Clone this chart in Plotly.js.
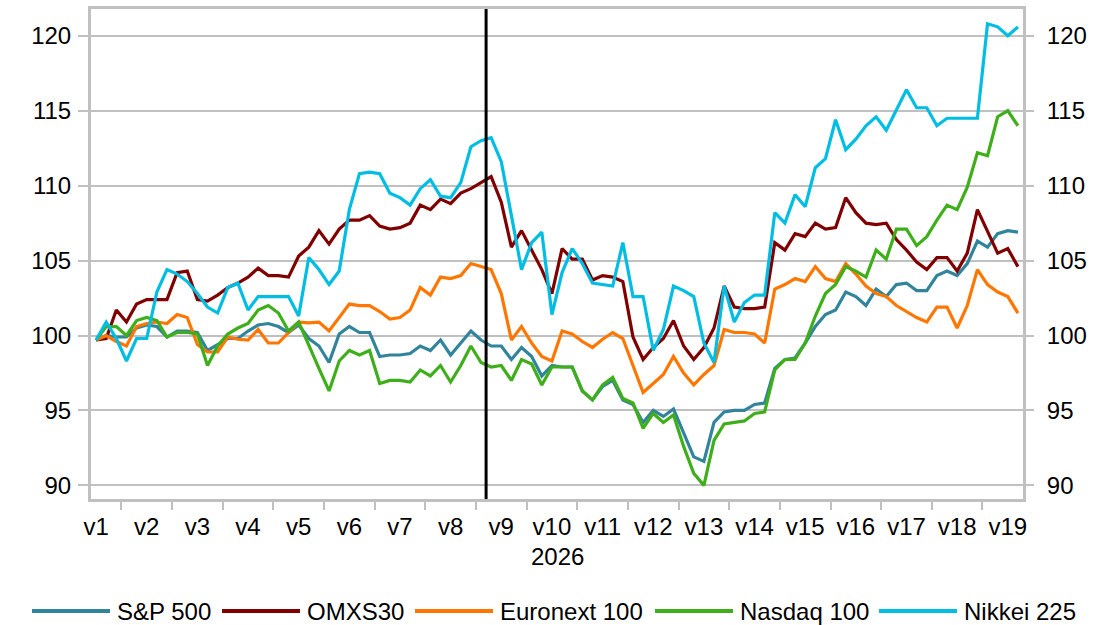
<!DOCTYPE html>
<html>
<head>
<meta charset="utf-8">
<script src="https://cdn.plot.ly/plotly-3.0.1.min.js"></script>
<style>
  html, body { margin: 0; padding: 0; background: #fff; }
  #chart { width: 1119px; height: 625px; }
</style>
</head>
<body>
<div id="chart"></div>
<script>
// ---- data ----
const weekLabels = ['v1','v2','v3','v4','v5','v6','v7','v8','v9','v10','v11','v12','v13','v14','v15','v16','v17','v18','v19'];
const yearLabel = '2026';
const seriesNames = ['S&P 500', 'OMXS30', 'Euronext 100', 'Nasdaq 100', 'Nikkei 225'];
const eventIndex = 38.5;

const sp500 = [99.7,100.0,99.9,99.9,100.5,100.7,100.6,99.9,100.3,100.3,100.2,99.0,99.4,99.8,99.8,100.3,100.7,100.8,100.6,100.2,100.7,99.8,99.3,98.2,100.1,100.6,100.2,100.2,98.6,98.7,98.7,98.8,99.3,99.0,99.7,98.7,99.5,100.3,99.7,99.3,99.3,98.4,99.2,98.6,97.3,98.0,97.9,97.9,96.3,95.7,96.6,97.0,95.7,95.4,94.2,95.0,94.6,95.1,93.5,91.9,91.6,94.2,94.9,95.0,95.0,95.4,95.5,97.8,98.4,98.5,99.5,100.6,101.4,101.7,102.9,102.6,102.0,103.1,102.6,103.4,103.5,103.0,103.0,104.0,104.3,104.0,104.8,106.3,105.9,106.8,107.0,106.9];
const omxs30 = [99.7,99.8,101.7,100.9,102.1,102.4,102.4,102.4,104.2,104.3,102.4,102.3,102.7,103.2,103.5,103.9,104.5,104.0,104.0,103.9,105.3,105.9,107.0,106.1,107.1,107.7,107.7,108.0,107.3,107.1,107.2,107.5,108.7,108.4,109.1,108.8,109.5,109.8,110.2,110.6,108.9,105.9,107.0,105.7,104.4,102.8,105.8,105.1,105.1,103.7,104.0,103.9,103.6,99.9,98.4,99.2,99.8,101.0,99.3,98.4,99.2,100.5,103.3,101.9,101.8,101.8,101.9,106.2,105.7,106.8,106.6,107.5,107.1,107.2,109.2,108.2,107.5,107.4,107.5,106.4,105.7,104.9,104.4,105.2,105.2,104.3,105.5,108.4,106.9,105.5,105.8,104.6];
const euronext100 = [99.7,100.0,99.6,99.3,100.6,100.8,100.9,100.8,101.4,101.2,99.4,98.9,98.9,99.9,99.75,99.7,100.4,99.5,99.5,100.2,100.9,100.85,100.9,100.3,101.2,102.1,102.0,102.0,101.6,101.1,101.2,101.7,103.2,102.7,103.9,103.8,104.0,104.8,104.6,104.4,102.8,99.7,100.6,99.5,98.6,98.3,100.3,100.1,99.6,99.2,99.75,100.2,99.8,98.0,96.2,96.8,97.4,98.6,97.5,96.7,97.4,98.0,100.4,100.2,100.2,100.1,99.5,103.1,103.4,103.8,103.6,104.6,103.8,103.6,104.8,104.1,103.3,102.8,102.6,102.0,101.6,101.2,100.9,101.9,101.9,100.5,102.0,104.4,103.4,102.9,102.6,101.5];
const nasdaq100 = [99.7,100.6,100.6,100.0,101.0,101.2,101.0,99.9,100.2,100.2,100.1,98.0,99.3,100.1,100.5,100.8,101.7,102.0,101.5,100.3,100.9,99.3,97.8,96.3,98.3,99.0,98.7,99.0,96.8,97.0,97.0,96.9,97.7,97.3,98.0,96.9,98.0,99.3,98.2,97.9,98.0,97.0,98.4,98.1,96.7,97.9,97.9,97.9,96.3,95.7,96.7,97.2,95.8,95.5,93.8,94.8,94.2,94.7,92.6,90.8,90.0,93.0,94.1,94.2,94.3,94.8,94.9,97.7,98.4,98.4,99.5,101.3,102.8,103.4,104.6,104.3,103.9,105.7,105.1,107.1,107.1,106.0,106.6,107.7,108.7,108.4,109.9,112.2,112.0,114.6,115.0,114.0];
const nikkei225 = [99.7,100.9,99.8,98.3,99.8,99.8,102.9,104.4,104.1,103.6,102.8,101.9,101.5,103.2,103.5,101.7,102.6,102.6,102.6,102.6,101.3,105.2,104.4,103.4,104.3,108.4,110.8,110.9,110.8,109.5,109.2,108.7,109.8,110.4,109.3,109.2,110.2,112.6,113.0,113.2,111.6,108.0,104.4,106.2,106.9,101.4,104.2,105.8,104.8,103.5,103.4,103.3,106.2,102.6,102.6,99.0,100.4,103.3,103.0,102.6,99.5,98.2,103.3,100.9,102.2,102.7,102.7,108.2,107.5,109.4,108.6,111.2,111.8,114.4,112.4,113.1,114.0,114.6,113.7,115.0,116.4,115.2,115.2,114.0,114.5,114.5,114.5,114.5,120.8,120.6,120.0,120.6];

// ---- styling ----
const seriesValues = [sp500, omxs30, euronext100, nasdaq100, nikkei225];
const seriesColors = ['#31849B', '#800000', '#FF7700', '#3FAE1B', '#00BDE3'];
const FONT = 'Liberation Sans, Arial, sans-serif';
const FS = 24;
const GRID = '#C0C0C0';
const yRange = [89.09, 121.79];

const xIdx = sp500.map((_, i) => i);
const labelPos = weekLabels.map((_, k) => 5 * k);
const boundaries = weekLabels.slice(1).map((_, k) => 5 * k + 2.5);

const traces = seriesValues.map((vals, s) => ({
  x: xIdx, y: vals, name: seriesNames[s], type: 'scatter', mode: 'lines',
  line: { color: seriesColors[s], width: 3.2 }, showlegend: false
}));
traces.push({ x: [null], y: [null], yaxis: 'y2', type: 'scatter', mode: 'lines', showlegend: false, hoverinfo: 'skip' });

// plot area in px: left 91, right 1023, top 9, bottom 499
const L = 91, R = 1023, T = 9, B = 499;
const pX = px => (px - L) / (R - L);
const pY = py => (B - py) / (B - T);

const legendStarts = [32, 222, 415, 655, 879];
const shapes = [{
  type: 'line', xref: 'x', yref: 'paper', x0: eventIndex, x1: eventIndex, y0: 0, y1: 1,
  line: { color: '#000', width: 3 }
}];
const annotations = [{
  text: yearLabel, xref: 'paper', yref: 'paper', x: 0.5, y: pY(556),
  xanchor: 'center', yanchor: 'middle', showarrow: false, font: { family: FONT, size: FS, color: '#000' }
}];
seriesNames.forEach((n, s) => {
  const x0 = legendStarts[s], x1 = x0 + 78;
  shapes.push({ type: 'line', xref: 'paper', yref: 'paper', x0: pX(x0), x1: pX(x1),
    y0: pY(611), y1: pY(611), line: { color: seriesColors[s], width: 4 } });
  annotations.push({ text: n, xref: 'paper', yref: 'paper', x: pX(x1 + 5), y: pY(611),
    xanchor: 'left', yanchor: 'middle', showarrow: false, font: { family: FONT, size: FS, color: '#000' } });
});

const yCommon = {
  range: yRange, tick0: 90, dtick: 5, tickmode: 'linear',
  ticks: 'outside', ticklen: 10, tickwidth: 2, tickcolor: GRID,
  tickfont: { family: FONT, size: FS, color: '#000' }, zeroline: false, fixedrange: true
};

const layout = {
  width: 1119, height: 625,
  margin: { l: L, r: 1119 - R, t: T, b: 625 - B, pad: 0 },
  paper_bgcolor: '#fff', plot_bgcolor: '#fff',
  font: { family: FONT, size: FS, color: '#000' },
  xaxis: {
    range: [-0.5, 91.5], tickmode: 'array', tickvals: labelPos, ticktext: weekLabels,
    ticks: '', showgrid: false, zeroline: false,
    showline: true, mirror: true, linecolor: GRID, linewidth: 3,
    tickfont: { family: FONT, size: FS, color: '#000' },
    ticklabelstandoff: 4,
    minor: { tickmode: 'array', tickvals: boundaries, ticks: 'outside', ticklen: 8, tickwidth: 2, tickcolor: GRID, showgrid: false }
  },
  yaxis: Object.assign({}, yCommon, {
    showgrid: true, gridcolor: GRID, gridwidth: 2,
    showline: true, mirror: true, linecolor: GRID, linewidth: 3, ticklabelstandoff: 2
  }),
  yaxis2: Object.assign({}, yCommon, {
    overlaying: 'y', side: 'right', showgrid: false, showline: false, ticklabelstandoff: 8
  }),
  shapes: shapes,
  annotations: annotations,
  showlegend: false
};

Plotly.newPlot('chart', traces, layout, { staticPlot: true, displayModeBar: false });
</script>
</body>
</html>
